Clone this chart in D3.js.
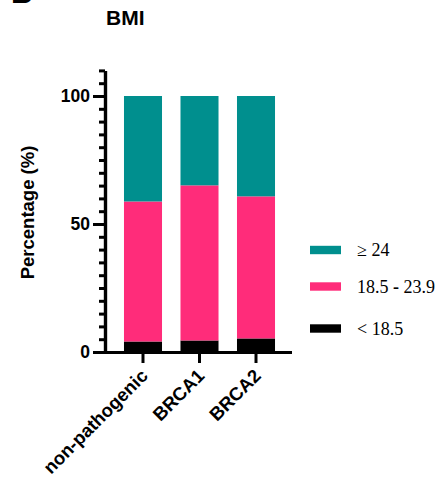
<!DOCTYPE html>
<html>
<head>
<meta charset="utf-8">
<script src="https://cdn.jsdelivr.net/npm/d3@7"></script>
<style>
  body { margin: 0; background: #fff; }
  svg { display: block; font-family: "Liberation Sans", Arial, sans-serif; }
</style>
</head>
<body>
<script>
// categories and stacked percentages
var categories = ["non-pathogenic", "BRCA1", "BRCA2"];
var under185 = [4.1, 4.5, 5.3];
var normal = [54.7, 60.6, 55.5];
var over24 = [41.2, 34.9, 39.2];
var seriesNames = ["< 18.5", "18.5 - 23.9", "\u2265 24"];
var seriesColors = ["#000000", "#ff2c7a", "#008f8e"];
var majorTicks = [0, 50, 100];
var minorTicks = d3.range(0, 111, 5);

var width = 441, height = 491;

var svg = d3.select("body").append("svg")
    .attr("width", width)
    .attr("height", height);

var y = d3.scaleLinear().domain([0, 110]).range([352, 70.4]);
var x = d3.scaleBand().domain(categories)
    .range([105, 294])
    .paddingInner(0.327)
    .paddingOuter(0.336);

// build stack rows
var rows = categories.map(function(c, i) {
  return {cat: c, "< 18.5": under185[i], "18.5 - 23.9": normal[i], "\u2265 24": over24[i]};
});
var stacked = d3.stack().keys(seriesNames)(rows);

// bars
svg.append("g").selectAll("g")
    .data(stacked)
    .enter().append("g")
    .attr("fill", function(d, i) { return seriesColors[i]; })
    .selectAll("rect")
    .data(function(d) { return d; })
    .enter().append("rect")
    .attr("x", function(d) { return x(d.data.cat); })
    .attr("width", x.bandwidth())
    .attr("y", function(d) { return y(d[1]); })
    .attr("height", function(d) { return y(d[0]) - y(d[1]); });

// y axis: minor ticks
var yMinor = svg.append("g")
    .attr("transform", "translate(105,0)")
    .call(d3.axisLeft(y).tickValues(minorTicks).tickSize(6).tickSizeOuter(0).tickFormat(""));
// y axis: major ticks with labels
var yMajor = svg.append("g")
    .attr("transform", "translate(105,0)")
    .call(d3.axisLeft(y).tickValues(majorTicks).tickSize(12).tickSizeOuter(0).tickPadding(3));

[yMinor, yMajor].forEach(function(g) {
  g.selectAll("path.domain").attr("stroke", "#000").attr("stroke-width", 3.2);
  g.selectAll(".tick line").attr("stroke", "#000").attr("stroke-width", 3);
});
yMajor.selectAll(".tick text")
    .attr("font-family", "'Liberation Sans', Arial, sans-serif")
    .attr("font-size", 17.5)
    .attr("font-weight", "bold")
    .attr("fill", "#000");

// x axis
var xAxis = svg.append("g")
    .attr("transform", "translate(0,352)")
    .call(d3.axisBottom(x).tickSize(11).tickSizeOuter(0));
xAxis.select("path.domain")
    .attr("d", "M103.4,0.5H292")
    .attr("stroke", "#000").attr("stroke-width", 3.2);
xAxis.selectAll(".tick line").attr("stroke", "#000").attr("stroke-width", 3);
xAxis.selectAll(".tick text")
    .attr("font-family", "'Liberation Sans', Arial, sans-serif")
    .attr("font-size", 18.5)
    .attr("font-weight", "bold")
    .attr("fill", "#000")
    .attr("text-anchor", "end")
    .attr("dy", null)
    .attr("y", 0)
    .attr("transform", "translate(6,25) rotate(-45)");

// y axis title
svg.append("text")
    .attr("transform", "translate(34,212.5) rotate(-90)")
    .attr("text-anchor", "middle")
    .attr("font-size", 18.5)
    .attr("font-weight", "bold")
    .text("Percentage (%)");

// chart title
svg.append("text")
    .attr("x", 106)
    .attr("y", 25)
    .attr("font-size", 21)
    .attr("font-weight", "bold")
    .text("BMI");

// panel letter, cut off at the top as in the source figure
svg.append("text")
    .attr("x", 11)
    .attr("y", 3)
    .attr("font-size", 30)
    .attr("font-weight", "bold")
    .text("B");

// legend
var legendOrder = [2, 1, 0];
var legendY = [250, 286.5, 328.5];
var legend = svg.append("g").selectAll("g")
    .data(legendOrder)
    .enter().append("g")
    .attr("transform", function(d, i) { return "translate(310," + legendY[i] + ")"; });
legend.append("rect")
    .attr("x", 0).attr("y", -4.2)
    .attr("width", 31).attr("height", 8.4)
    .attr("fill", function(d) { return seriesColors[d]; });
legend.append("text")
    .attr("x", 47)
    .attr("y", 6)
    .attr("font-family", "'Liberation Serif', 'Times New Roman', serif")
    .attr("font-size", 18)
    .attr("fill", "#000")
    .each(function(d) {
      var t = d3.select(this), name = seriesNames[d];
      if (name.indexOf(" - ") > 0) {
        var parts = name.split(" - ");
        t.append("tspan").text(parts[0] + " ");
        t.append("tspan").attr("font-weight", "bold").text("-");
        t.append("tspan").text(" " + parts[1]);
      } else {
        t.text(name);
      }
    });
</script>
</body>
</html>
